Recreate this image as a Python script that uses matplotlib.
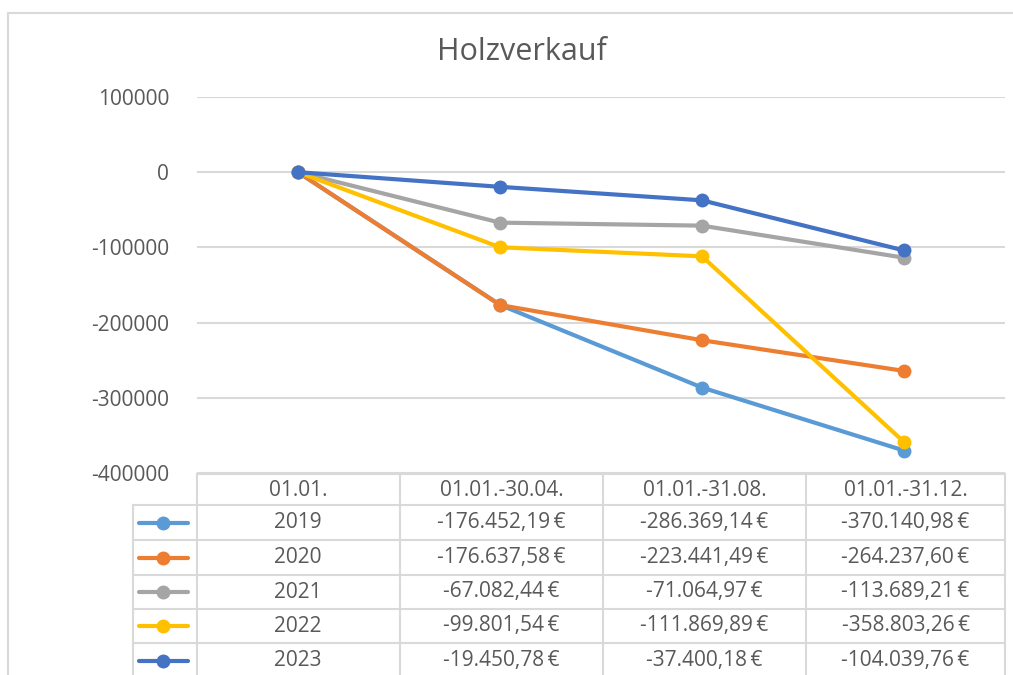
import matplotlib.pyplot as plt
from matplotlib.lines import Line2D

plt.rcParams['font.family'] = ['Open Sans', 'DejaVu Sans']

categories = ["01.01.", "01.01.-30.04.", "01.01.-31.08.", "01.01.-31.12."]
years = ["2019", "2020", "2021", "2022", "2023"]
v2019 = [0, -176452.19, -286369.14, -370140.98]
v2020 = [0, -176637.58, -223441.49, -264237.60]
v2021 = [0, -67082.44, -71064.97, -113689.21]
v2022 = [0, -99801.54, -111869.89, -358803.26]
v2023 = [0, -19450.78, -37400.18, -104039.76]
series = [v2019, v2020, v2021, v2022, v2023]
colors = ["#5B9BD5", "#ED7D31", "#A5A5A5", "#FFC000", "#4472C4"]
yticks = [100000, 0, -100000, -200000, -300000, -400000]

W, H = 1013, 675
text_col = "#595959"
grid_col = "#D9D9D9"


def fx(px):
    return px / W


def fy(py):
    return 1 - py / H


def euro(v):
    s = f"{v:,.2f}"
    s = s.replace(",", "X").replace(".", ",").replace("X", ".")
    return s + "\u2009€"


fig = plt.figure(figsize=(W / 100, H / 100), dpi=100)

# chart area frame
fig.add_artist(Line2D([fx(8), fx(8)], [fy(13), fy(680)], color=grid_col, lw=1.5))
fig.add_artist(Line2D([fx(8), fx(1013)], [fy(13), fy(13)], color=grid_col, lw=1.5))

ax = fig.add_axes([fx(197), fy(473), fx(1005) - fx(197), fy(97) - fy(473)])
ax.set_xlim(-0.5, len(categories) - 0.5)
ax.set_ylim(-400000, 100000)
for s in ax.spines.values():
    s.set_visible(False)
ax.set_xticks([])
ax.set_yticks(yticks)
ax.set_yticklabels([str(t) for t in yticks], fontsize=15, color=text_col)
ax.tick_params(axis="y", length=0, pad=20)
ax.yaxis.grid(True, color=grid_col, lw=1.5)
ax.set_axisbelow(True)

x = list(range(len(categories)))
for vals, c in zip(series, colors):
    ax.plot(x, vals, color=c, lw=3.0, marker="o", ms=9, zorder=3)

fig.text(fx(522), fy(52), "Holzverkauf", ha="center", va="center",
         fontsize=22, color=text_col)

# data table
col_edges = [197, 400, 603, 806, 1005]
row_edges = [474, 505, 540, 575, 609, 643, 678]
lw = 1.5
for yy in row_edges:
    left = 197 if yy == 474 else 133
    fig.add_artist(Line2D([fx(left), fx(1005)], [fy(yy), fy(yy)], color=grid_col, lw=lw))
for xx in col_edges:
    fig.add_artist(Line2D([fx(xx), fx(xx)], [fy(474), fy(678)], color=grid_col, lw=lw))
fig.add_artist(Line2D([fx(133), fx(133)], [fy(505), fy(678)], color=grid_col, lw=lw))

for j, cat in enumerate(categories):
    cx = (col_edges[j] + col_edges[j + 1]) / 2
    fig.text(fx(cx), fy(490), cat, ha="center", va="center", fontsize=15, color=text_col)

for i, (yr, vals, c) in enumerate(zip(years, series, colors)):
    cy = (row_edges[i + 1] + row_edges[i + 2]) / 2
    fig.add_artist(Line2D([fx(139), fx(188)], [fy(cy), fy(cy)], color=c, lw=3.0,
                          solid_capstyle="round"))
    fig.add_artist(Line2D([fx(163)], [fy(cy)], color=c, marker="o", ms=9))
    fig.text(fx(298), fy(cy), yr, ha="center", va="center", fontsize=15, color=text_col)
    for j in range(1, len(categories)):
        cx = (col_edges[j] + col_edges[j + 1]) / 2
        fig.text(fx(cx), fy(cy), euro(vals[j]), ha="center", va="center",
                 fontsize=15, color=text_col)

fig.savefig("out.png", dpi=100)
